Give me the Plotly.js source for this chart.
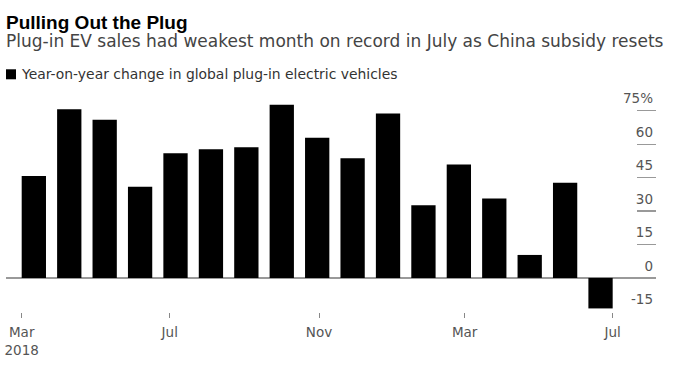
<!DOCTYPE html>
<html>
<head>
<meta charset="utf-8">
<script src="https://cdn.plot.ly/plotly-3.0.1.min.js"></script>
<style>html,body{margin:0;padding:0;background:#fff;}#chart{width:680px;height:366px;}</style>
</head>
<body>
<div id="chart"></div>
<script>
// ---- data ----
const months = ["2018-03","2018-04","2018-05","2018-06","2018-07","2018-08","2018-09","2018-10","2018-11","2018-12",
                "2019-01","2019-02","2019-03","2019-04","2019-05","2019-06","2019-07"];
const yoyChange = [45.7, 75.7, 70.9, 40.9, 55.9, 57.7, 58.6, 77.7, 62.9, 53.7, 73.8, 32.6, 50.9, 35.6, 10.3, 42.7, -13.7];
const xTickDates = ["2018-03-01","2018-07-01","2018-11-01","2019-03-01","2019-07-01"];
const xTickText = ["Mar<br>2018","Jul","Nov","Mar","Jul"];
const yTickVals = [-15, 0, 15, 30, 45, 60, 75];
const yTickText = ["-15","0","15","30","45","60","75%"];
const seriesName = "Year-on-year change in global plug-in electric vehicles";
const titleText = "Pulling Out the Plug";
const subtitleText = "Plug-in EV sales had weakest month on record in July as China subsidy resets";

// ---- geometry ----
const W = 680, H = 366;
const plotL = 6, plotR = 656, plotT = 86, plotB = 311.8;
const bargap = 0.314;
const half = (1 - bargap) / 2;
const xRange = [-0.786, 17.566];
const yRange = [-15.3, 86.09];

// time axis: first bar's left edge = first tick date, last bar's right edge = last tick date
const t0 = Date.parse(xTickDates[0] + "T00:00:00Z");
const t1 = Date.parse(xTickDates[xTickDates.length - 1] + "T00:00:00Z");
const n = months.length;
const msPerUnit = (t1 - t0) / ((n - 1) + 2 * half);
function idxToDate(i) {
  const ms = t0 + (i + half) * msPerUnit;
  return new Date(ms).toISOString().replace("T", " ").replace("Z", "");
}
const dateRange = [idxToDate(xRange[0]), idxToDate(xRange[1])];

const px = x => (x - plotL) / (plotR - plotL);
const py = y => (plotB - y) / (plotB - plotT);

const FONT_T = "'Liberation Sans', Arial, Helvetica, sans-serif";
const FONT = "'DejaVu Sans', 'Liberation Sans', Arial, sans-serif";

const traces = [
  {
    type: "bar",
    x: months,
    y: yoyChange,
    name: seriesName,
    marker: { color: "#000000", line: { width: 0 } },
    showlegend: false,
    hoverinfo: "x+y"
  },
  {
    type: "scatter",
    mode: "markers",
    x: xTickDates,
    y: xTickDates.map(() => null),
    xaxis: "x2",
    yaxis: "y",
    showlegend: false,
    hoverinfo: "skip",
    marker: { opacity: 0 }
  }
];

const layout = {
  width: W, height: H,
  margin: { l: plotL, r: W - plotR, t: plotT, b: H - plotB, pad: 0 },
  paper_bgcolor: "#ffffff",
  plot_bgcolor: "#ffffff",
  bargap: bargap,
  showlegend: false,
  font: { family: FONT, color: "#555555", size: 13.5 },
  title: {
    text: "<b>" + titleText + "</b>",
    font: { family: FONT_T, size: 19, color: "#000000" },
    x: 6 / W, xanchor: "left", xref: "container",
    y: 1 - 22 / H, yanchor: "middle", yref: "container"
  },
  xaxis: {
    type: "category",
    range: xRange,
    showticklabels: false,
    ticks: "",
    showgrid: false,
    zeroline: false,
    showline: false,
    fixedrange: true
  },
  xaxis2: {
    type: "date",
    overlaying: "x",
    anchor: "y",
    side: "bottom",
    range: dateRange,
    tickmode: "array",
    tickvals: xTickDates,
    ticktext: xTickText,
    ticks: "outside",
    ticklen: 5,
    tickwidth: 1,
    tickcolor: "#888888",
    ticklabelstandoff: 3,
    showgrid: false,
    zeroline: false,
    showline: false,
    tickfont: { family: FONT, size: 13.5, color: "#555555" },
    fixedrange: true
  },
  yaxis: {
    side: "right",
    range: yRange,
    tickmode: "array",
    tickvals: yTickVals,
    ticktext: yTickText,
    ticks: "inside",
    ticklen: 19,
    tickwidth: 1.3,
    tickcolor: "#999999",
    ticklabelposition: "inside top",
    ticklabelshift: -2,
    showgrid: false,
    zeroline: true,
    zerolinecolor: "#999999",
    zerolinewidth: 1.3,
    showline: false,
    tickfont: { family: FONT, size: 13.5, color: "#555555" },
    fixedrange: true
  },
  shapes: [
    {
      type: "rect", xref: "paper", yref: "paper",
      x0: px(6), x1: px(16), y0: py(79.3), y1: py(69.3),
      fillcolor: "#000000", line: { width: 0 }
    }
  ],
  annotations: [
    {
      text: subtitleText, xref: "paper", yref: "paper",
      x: px(4), xanchor: "left", y: py(41), yanchor: "middle",
      showarrow: false, font: { family: FONT, size: 17, color: "#444444" }
    },
    {
      text: seriesName, xref: "paper", yref: "paper",
      x: px(19), xanchor: "left", y: py(74), yanchor: "middle",
      showarrow: false, font: { family: FONT, size: 13.9, color: "#333333" }
    }
  ]
};

Plotly.newPlot("chart", traces, layout, { displayModeBar: false, staticPlot: true });
</script>
</body>
</html>
